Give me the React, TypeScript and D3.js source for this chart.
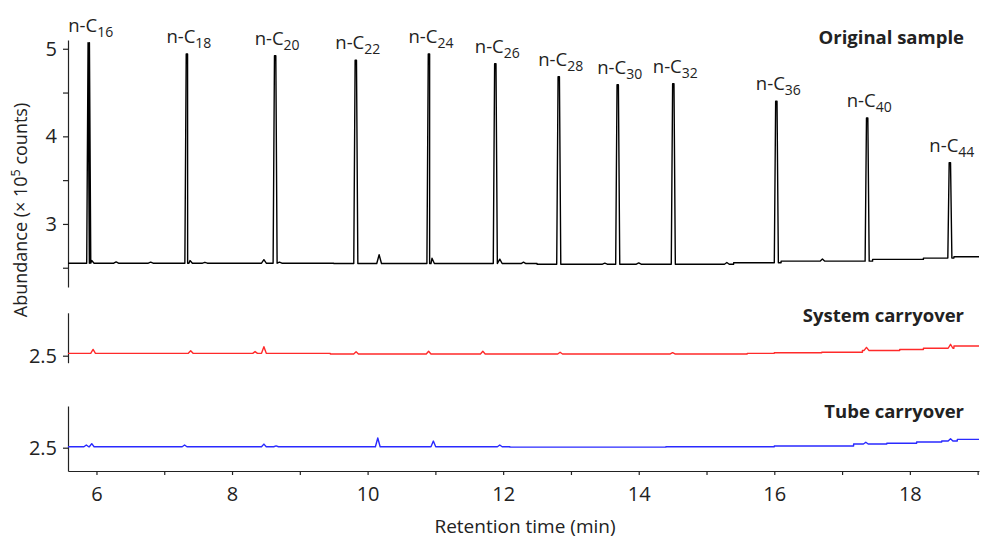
import React, { useEffect, useRef } from 'react';
import * as d3 from 'd3';

// retention time (min) of the labelled n-alkane peaks and their apex (x 10^5 counts)
const peakCarbons = ['16', '18', '20', '22', '24', '26', '28', '30', '32', '36', '40', '44'];
const peakTimes = [5.886, 7.334, 8.636, 9.826, 10.905, 11.884, 12.82, 13.69, 14.51, 16.03, 17.37, 18.59];
const peakApex = [5.07, 4.94, 4.92, 4.87, 4.94, 4.83, 4.68, 4.59, 4.6, 4.4, 4.21, 3.7];

// baseline levels (step changes) of each run
const originalStepTimes = [5.58, 9.5, 12.5, 15.4, 16.1, 17.45, 18.2, 18.65];
const originalStepLevels = [2.552, 2.548, 2.54, 2.557, 2.575, 2.595, 2.61, 2.625];
const systemStepTimes = [5.58, 9.45, 15.6, 16.0, 16.7, 17.3, 17.85, 18.2, 18.65];
const systemStepLevels = [2.527, 2.52, 2.527, 2.534, 2.54, 2.56, 2.57, 2.585, 2.61];
const tubeStepTimes = [5.58, 12.1, 14.4, 16.0, 17.17, 17.66, 18.1, 18.47, 18.7];
const tubeStepLevels = [2.511, 2.506, 2.511, 2.52, 2.542, 2.55, 2.565, 2.576, 2.595];

// small bumps: time, height above the baseline
const originalBumpTimes = [5.93, 6.29, 6.8, 7.38, 7.6, 8.47, 8.7, 10.17, 10.95, 11.95, 12.3, 13.5, 14.0, 15.3, 16.71];
const originalBumpHeights = [0.03, 0.015, 0.012, 0.03, 0.01, 0.04, 0.012, 0.1, 0.06, 0.05, 0.015, 0.012, 0.015, 0.02, 0.025];
const systemBumpTimes = [5.95, 7.39, 8.34, 8.47, 9.83, 10.9, 11.7, 12.84, 14.5, 17.36, 18.6];
const systemBumpHeights = [0.045, 0.03, 0.02, 0.075, 0.025, 0.03, 0.03, 0.02, 0.015, 0.035, 0.045];
const tubeBumpTimes = [5.85, 5.93, 7.3, 8.47, 8.65, 10.15, 10.97, 11.95, 17.35, 18.6];
const tubeBumpHeights = [0.02, 0.035, 0.02, 0.03, 0.01, 0.1, 0.065, 0.02, 0.02, 0.025];

const xTickValues = [6, 7, 8, 9, 10, 11, 12, 13, 14, 15, 16, 17, 18, 19];
const xTickLabels = [6, 8, 10, 12, 14, 16, 18];
const topTickValues = [2.5, 3, 3.5, 4, 4.5, 5];
const topTickLabels = [3, 4, 5];
const lowerTickValues = [2.5];

const FONT = '"Open Sans", "Liberation Sans", Arial, sans-serif';
const TEXT = '#222';

function baseAt(t, times, levels) {
    let v = levels[0];
    times.forEach((s, i) => { if (t >= s) v = levels[i]; });
    return v;
}

function buildTrace(stepTimes, stepLevels, spikes, bumps, end) {
    const pts = [];
    stepTimes.forEach((t, i) => {
        if (i > 0) pts.push([t, stepLevels[i - 1]]);
        pts.push([t, stepLevels[i]]);
    });
    pts.push([end, stepLevels[stepLevels.length - 1]]);
    spikes.forEach(([t, apex]) => {
        const b = baseAt(t, stepTimes, stepLevels);
        pts.push([t - 0.03, b], [t - 0.01, apex], [t + 0.01, apex], [t + 0.03, b]);
    });
    bumps.forEach(([t, h]) => {
        const b = baseAt(t, stepTimes, stepLevels);
        pts.push([t - 0.035, b], [t, b + h], [t + 0.035, b]);
    });
    return pts.sort((a, b) => a[0] - b[0]);
}

export default function App() {
    const svgRef = useRef();

    useEffect(() => {
        const width = 981;
        const height = 539;
        const svg = d3.select(svgRef.current);
        svg.selectAll('*').remove();
        svg.attr('width', width).attr('height', height);

        const x = d3.scaleLinear().domain([5.58, 19.02]).range([68, 979]);
        const yTop = d3.scaleLinear().domain([2.28, 5.1]).range([287, 40]);
        const yMid = d3.scaleLinear().domain([2.42, 2.99]).range([362.7, 312.8]);
        const yBot = d3.scaleLinear().domain([2.234, 2.976]).range([471, 406]);

        const styleAxis = g => {
            g.attr('font-family', FONT).attr('font-size', 20);
            g.selectAll('path').attr('stroke', TEXT).attr('stroke-width', 1.2);
            g.selectAll('line').attr('stroke', TEXT).attr('stroke-width', 1.2);
            g.selectAll('text').attr('fill', TEXT);
        };

        svg.append('g')
            .attr('transform', 'translate(68,0)')
            .call(d3.axisLeft(yTop).tickValues(topTickValues)
                .tickFormat(d => topTickLabels.includes(d) ? d : '')
                .tickSize(5).tickSizeOuter(0).tickPadding(6))
            .call(styleAxis);

        [yMid, yBot].forEach(y => {
            svg.append('g')
                .attr('transform', 'translate(68,0)')
                .call(d3.axisLeft(y).tickValues(lowerTickValues)
                    .tickFormat(d3.format('.1f'))
                    .tickSize(5).tickSizeOuter(0).tickPadding(6))
                .call(styleAxis);
        });

        svg.append('g')
            .attr('transform', 'translate(0,471)')
            .call(d3.axisBottom(x).tickValues(xTickValues)
                .tickFormat(d => xTickLabels.includes(d) ? d : '')
                .tickSize(4).tickSizeOuter(0).tickPadding(12))
            .call(styleAxis);

        const runs = [
            {
                y: yTop, color: '#000',
                pts: buildTrace(originalStepTimes, originalStepLevels,
                    peakTimes.map((t, i) => [t, peakApex[i]]),
                    originalBumpTimes.map((t, i) => [t, originalBumpHeights[i]]), 19.02)
            },
            {
                y: yMid, color: '#ff2a2a',
                pts: buildTrace(systemStepTimes, systemStepLevels, [],
                    systemBumpTimes.map((t, i) => [t, systemBumpHeights[i]]), 19.02)
            },
            {
                y: yBot, color: '#2a2aff',
                pts: buildTrace(tubeStepTimes, tubeStepLevels, [],
                    tubeBumpTimes.map((t, i) => [t, tubeBumpHeights[i]]), 19.02)
            }
        ];

        runs.forEach(r => {
            const line = d3.line().x(d => x(d[0])).y(d => r.y(d[1]));
            svg.append('path')
                .datum(r.pts)
                .attr('fill', 'none')
                .attr('stroke', r.color)
                .attr('stroke-width', 1.4)
                .attr('stroke-linejoin', 'round')
                .attr('d', line);
        });

        // peak labels
        peakCarbons.forEach((c, i) => {
            const t = svg.append('text')
                .attr('x', x(peakTimes[i]) + 2)
                .attr('y', yTop(peakApex[i]) - 11)
                .attr('text-anchor', 'middle')
                .attr('font-family', FONT)
                .attr('font-size', 18.5)
                .attr('fill', TEXT);
            t.append('tspan').text('n-C');
            t.append('tspan').attr('dy', 5).attr('font-size', 14).text(c);
        });

        const titles = [['Original sample', 44], ['System carryover', 322], ['Tube carryover', 418]];
        titles.forEach(([s, ty]) => {
            svg.append('text')
                .attr('x', 964).attr('y', ty)
                .attr('text-anchor', 'end')
                .attr('font-family', FONT)
                .attr('font-weight', 'bold')
                .attr('font-size', 18.5)
                .attr('fill', TEXT)
                .text(s);
        });

        const yl = svg.append('text')
            .attr('transform', 'translate(27,210) rotate(-90)')
            .attr('text-anchor', 'middle')
            .attr('font-family', FONT)
            .attr('font-size', 18)
            .attr('fill', TEXT);
        yl.append('tspan').text('Abundance (\u00d7 10');
        yl.append('tspan').attr('dy', -7).attr('font-size', 12.5).text('5');
        yl.append('tspan').attr('dy', 7).text(' counts)');

        svg.append('text')
            .attr('x', 525).attr('y', 533)
            .attr('text-anchor', 'middle')
            .attr('font-family', FONT)
            .attr('font-size', 19)
            .attr('fill', TEXT)
            .text('Retention time (min)');
    }, []);

    return (
        <div style={{ position: 'absolute', left: 0, top: 0, width: 981, height: 539, background: '#fff' }}>
            <svg ref={svgRef} style={{ display: 'block' }}></svg>
        </div>
    );
}
